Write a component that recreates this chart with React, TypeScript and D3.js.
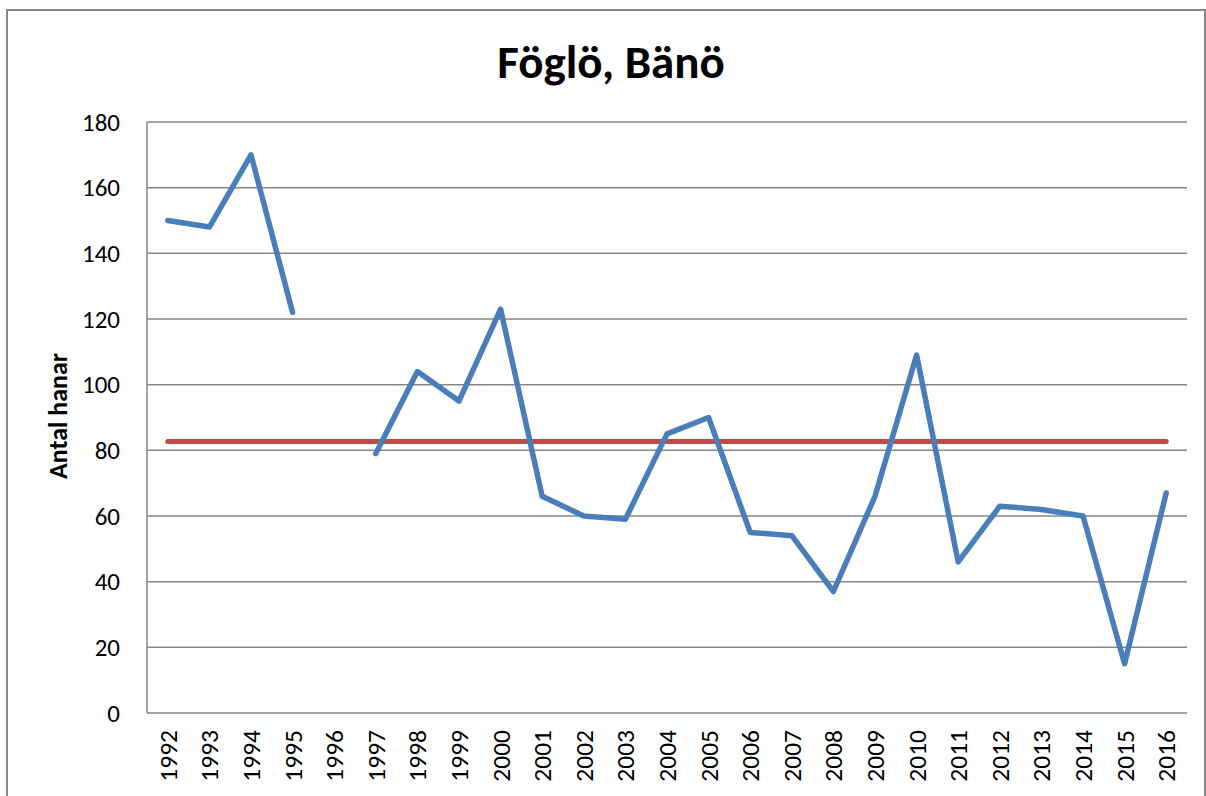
import React from 'react';
import * as d3 from 'd3';

const years = ['1992', '1993', '1994', '1995', '1996', '1997', '1998', '1999', '2000', '2001', '2002', '2003', '2004', '2005', '2006', '2007', '2008', '2009', '2010', '2011', '2012', '2013', '2014', '2015', '2016'];
const counts: (number | null)[] = [150, 148, 170, 122, null, 79, 104, 95, 123, 66, 60, 59, 85, 90, 55, 54, 37, 66, 109, 46, 63, 62, 60, 15, 67];
const meanValue = 82.7;
const yTicks = [0, 20, 40, 60, 80, 100, 120, 140, 160, 180];

const W = 1206;
const H = 796;
const margin = { top: 122, right: 19, bottom: 83, left: 147 };
const font = 'Carlito, Calibri, "Open Sans", sans-serif';

export default function App() {
  const innerW = W - margin.left - margin.right;
  const innerH = H - margin.top - margin.bottom;

  const x = d3.scaleBand().domain(years).range([0, innerW]);
  const y = d3.scaleLinear().domain([0, 180]).range([innerH, 0]);
  const cx = (d: string) => (x(d) ?? 0) + x.bandwidth() / 2;

  // gap at 1996 (no count)
  const line = d3.line<number | null>()
    .defined(d => d !== null)
    .x((_, i) => cx(years[i]))
    .y(d => y(d as number));

  const meanLine = d3.line<string>()
    .x(d => cx(d))
    .y(() => y(meanValue));

  return (
    <svg width={W} height={H} style={{ position: 'absolute', left: 0, top: 0, background: '#fff' }}>
      <rect x={7} y={10} width={1198} height={800} fill="#fff" stroke="#868686" strokeWidth={2} />
      <text x={611} y={78} textAnchor="middle" fontFamily={font} fontWeight="bold" fontSize={47}>Föglö, Bänö</text>
      <g transform={`translate(${margin.left},${margin.top})`}>
        {yTicks.map(t => (
          <g key={t}>
            <line x1={0} x2={innerW} y1={y(t)} y2={y(t)} stroke="#868686" strokeWidth={1.5} />
            <text x={-27} y={y(t)} dy="0.35em" textAnchor="end" fontFamily={font} fontSize={25}>{t}</text>
          </g>
        ))}
        <line x1={0} x2={0} y1={0} y2={innerH} stroke="#868686" strokeWidth={1.5} />
        {years.map(yr => (
          <text key={yr} transform={`translate(${cx(yr)},${innerH + 17}) rotate(-90)`} dy="0.35em" textAnchor="end" fontFamily={font} fontSize={25.5}>{yr}</text>
        ))}
        <path d={meanLine([years[0], years[years.length - 1]]) ?? ''} fill="none" stroke="#BE4B48" strokeWidth={5} strokeLinecap="round" />
        <path d={line(counts) ?? ''} fill="none" stroke="#4A7EBB" strokeWidth={5.5} strokeLinejoin="round" strokeLinecap="round" />
      </g>
      <text transform={`translate(67,416) rotate(-90)`} textAnchor="middle" fontFamily={font} fontWeight="bold" fontSize={26}>Antal hanar</text>
    </svg>
  );
}
